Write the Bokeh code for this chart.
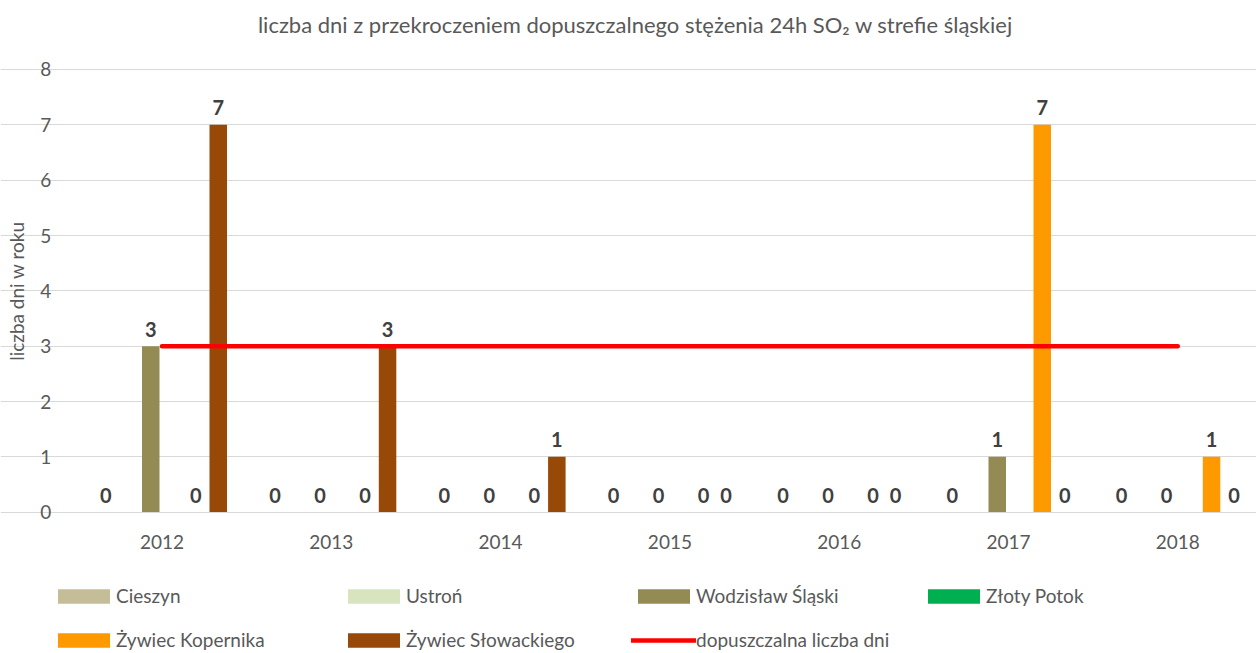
import numpy as np
from bokeh.plotting import figure
from bokeh.models import (ColumnDataSource, Legend, LegendItem, Range1d, FixedTicker, Label)
from bokeh.core.properties import value
from bokeh.embed import file_html
from bokeh.resources import INLINE

# ---- data ----
years = ["2012", "2013", "2014", "2015", "2016", "2017", "2018"]
cieszyn = [0, 0, 0, 0, 0, 0, 0]
ustron = [None, None, None, None, None, None, None]
wodzislaw = [3, 0, 0, 0, 0, 1, 0]
zloty_potok = [None, None, None, None, None, None, None]
zywiec_kopernika = [0, 0, 0, 0, 0, 7, 1]
zywiec_slowackiego = [7, 3, 1, 0, 0, 0, 0]
limit_days = [3, 3, 3, 3, 3, 3, 3]

series_names = ["Cieszyn", "Ustroń", "Wodzisław Śląski", "Złoty Potok",
                "Żywiec Kopernika", "Żywiec Słowackiego"]
limit_name = "dopuszczalna liczba dni"
title_text = "liczba dni z przekroczeniem dopuszczalnego stężenia 24h SO₂ w strefie śląskiej"
y_label = "liczba dni w roku"
y_ticks = [0, 1, 2, 3, 4, 5, 6, 7, 8]

colors = ["#C4BD97", "#D7E4BD", "#948A54", "#00B050", "#FF9900", "#984807"]
limit_color = "#FF0000"
series_values = [cieszyn, ustron, wodzislaw, zloty_potok, zywiec_kopernika, zywiec_slowackiego]

FONT = "Lato"
TXT = "#595959"

# ---- layout constants (pixels) ----
W, H = 1256, 652
PX_X = 169.3      # px per year group
PX_Y = 55.34      # px per day
X0_PX = 161.5     # centre of first group
Y0_PX = 511.7     # y = 0 line (from top)

idx = list(range(len(years)))
p = figure(width=W, height=H, output_backend="svg", toolbar_location=None,
           x_range=Range1d(-X0_PX / PX_X, (W - X0_PX) / PX_X),
           y_range=Range1d(-(H - Y0_PX) / PX_Y, Y0_PX / PX_Y),
           min_border=0)
p.outline_line_color = None
p.background_fill_color = "white"
p.border_fill_color = "white"

# axes drawn inside the canvas
p.xgrid.grid_line_color = None
p.ygrid.grid_line_color = "#D9D9D9"
p.ygrid.grid_line_width = 1
p.ygrid.bounds = (-0.5, len(years) - 0.5)

p.yaxis.fixed_location = -0.5
p.yaxis.bounds = (0, 8)
p.yaxis.ticker = FixedTicker(ticks=y_ticks)
p.yaxis.axis_line_color = None
p.yaxis.major_tick_line_color = None
p.yaxis.minor_tick_line_color = None
p.yaxis.major_label_text_font = FONT
p.yaxis.major_label_text_font_size = "19px"
p.yaxis.major_label_text_color = TXT
p.yaxis.major_label_standoff = 20
p.yaxis.axis_label = y_label
p.yaxis.axis_label_text_font = FONT
p.yaxis.axis_label_text_font_size = "19px"
p.yaxis.axis_label_text_font_style = "normal"
p.yaxis.axis_label_text_color = TXT
p.yaxis.axis_label_standoff = 9

p.xaxis.fixed_location = 0
p.xaxis.bounds = (-0.5, len(years) - 0.5)
p.xaxis.ticker = FixedTicker(ticks=idx)
p.xaxis.major_label_overrides = {i: y for i, y in zip(idx, years)}
p.xaxis.axis_line_color = "#D9D9D9"
p.xaxis.major_tick_line_color = None
p.xaxis.minor_tick_line_color = None
p.xaxis.major_label_text_font = FONT
p.xaxis.major_label_text_font_size = "19px"
p.xaxis.major_label_text_color = TXT
p.xaxis.major_label_standoff = 17

n = len(series_names)
step = 22.5 / PX_X
bar_w = 17.5 / PX_X
items = []
for i, (name, vals, col) in enumerate(zip(series_names, series_values, colors)):
    off = (i - (n - 1) / 2) * step
    xs = [k + off for k in idx]
    v = [np.nan if x is None else x for x in vals]
    src = ColumnDataSource(dict(x=xs, val=v, year=years))
    r = p.vbar(x="x", top="val", width=bar_w, source=src, fill_color=col, line_color=None)
    items.append(LegendItem(label=name, renderers=[r]))
    lx = [xx for xx, x in zip(xs, vals) if x is not None]
    lv = [x for x in vals if x is not None]
    if lv:
        lsrc = ColumnDataSource(dict(x=lx, val=lv, txt=[str(x) for x in lv]))
        p.text(x="x", y="val", text="txt", source=lsrc,
               text_align="center", text_baseline="alphabetic", y_offset=-17,
               text_font=value(FONT), text_font_size="20px", text_font_style="bold",
               text_color="#404040")

lr = p.line(x=idx, y=limit_days, line_color=limit_color, line_width=4.5, line_cap="round")
items.append(LegendItem(label=limit_name, renderers=[lr]))

title = Label(x=635, y=H - 24, x_units="screen", y_units="screen", text=title_text,
              text_align="center", text_baseline="middle", text_font=FONT,
              text_font_size="22px", text_color=TXT)
p.add_layout(title)

legend = Legend(items=items, ncols=4, orientation="horizontal",
                glyph_width=65, glyph_height=18, label_standoff=0,
                label_width=204, spacing=21, padding=0, margin=0,
                border_line_color=None, background_fill_alpha=0,
                label_text_font=FONT, label_text_font_size="19px", label_text_color=TXT,
                location=(51, 1))
p.add_layout(legend, "center")

open("out.html", "w").write(file_html(p, INLINE))
